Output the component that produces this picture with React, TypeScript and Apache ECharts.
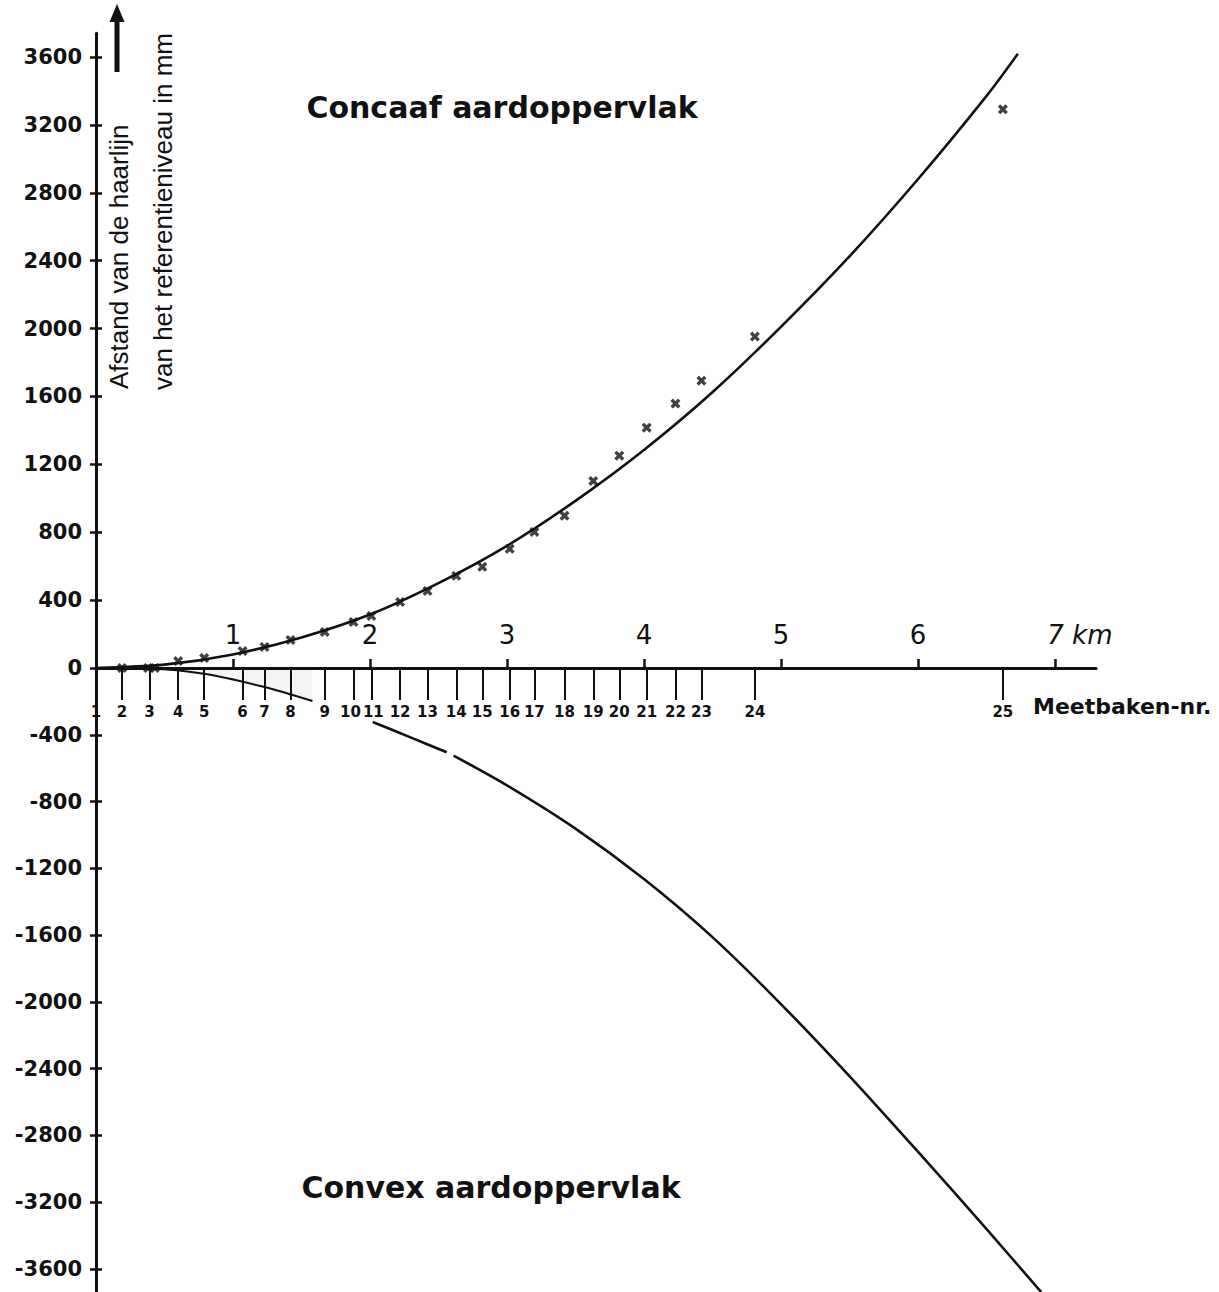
import React, { useEffect, useRef } from "react";
import * as echarts from "echarts";

// ---------- data ----------
const yTicksUpper = [0, 400, 800, 1200, 1600, 2000, 2400, 2800, 3200, 3600];
const yTicksLower = [-3600, -3200, -2800, -2400, -2000, -1600, -1200, -800, -400];
const kmTickValues = [1, 2, 3, 4, 5, 6, 7];

const bakenNumbers = [
  1, 2, 3, 4, 5, 6, 7, 8, 9, 10, 11, 12, 13, 14, 15, 16, 17, 18, 19, 20, 21, 22,
  23, 24, 25,
];
const bakenKm = [
  0, 0.19, 0.39, 0.6, 0.79, 1.07, 1.23, 1.42, 1.67, 1.88, 2.01, 2.22, 2.42,
  2.63, 2.82, 3.02, 3.2, 3.42, 3.63, 3.82, 4.02, 4.23, 4.42, 4.81, 6.62,
];

// measured points (crosses)
const measuredKm = [
  0.19, 0.38, 0.43, 0.6, 0.79, 1.07, 1.23, 1.42, 1.67, 1.88, 2.01, 2.22, 2.42,
  2.63, 2.82, 3.02, 3.2, 3.42, 3.63, 3.82, 4.02, 4.23, 4.42, 4.81, 6.62,
];
const measuredMm = [
  0, 0, 0, 41, 59, 100, 124, 165, 212, 271, 307, 389, 454, 543, 596, 702, 802,
  897, 1102, 1251, 1416, 1558, 1693, 1953, 3292,
];

// concave earth surface curve
const concaveKm = [0, 0.5, 1, 1.5, 2, 2.5, 3, 3.5, 4, 4.5, 5, 5.5, 6, 6.5, 6.73];
const concaveMm = [0, 20, 80, 180, 315, 500, 720, 985, 1285, 1625, 2010, 2425, 2880, 3370, 3620];

// convex earth surface curve: short part near the origin
const convexNearKm = [0, 0.39, 0.8, 1.23, 1.58];
const convexNearMm = [0, -3, -36, -114, -198];

// convex curve: main part (two pieces with a tiny gap)
const convexAKm = [2.02, 2.3, 2.56];
const convexAMm = [-323, -417, -505];
const convexBKm = [2.61, 3.0, 3.5, 4.0, 4.5, 5.0, 5.5, 6.0, 6.5, 6.9];
const convexBMm = [-525, -703, -962, -1264, -1612, -2013, -2444, -2897, -3360, -3738];

// ---------- styling ----------
const NUM_FONT = '"DejaVu Sans", sans-serif';
const TITLE_FONT = '"DejaVu Sans", sans-serif';
const AXIS_TITLE_FONT = '"Liberation Sans", Arial, sans-serif';
const INK = "#111";
const X_SYMBOL =
  "path://M0,2.4 L2.4,0 L5,2.6 L7.6,0 L10,2.4 L7.4,5 L10,7.6 L7.6,10 L5,7.4 L2.4,10 L0,7.6 L2.6,5 Z";

const pairs = (xs: number[], ys: number[]) => xs.map((x, i) => [x, ys[i]]);

function nearestBaken(v: number): string {
  let best = -1;
  let bestD = Infinity;
  bakenKm.forEach((k, i) => {
    const d = Math.abs(k - v);
    if (d < bestD) {
      bestD = d;
      best = i;
    }
  });
  if (best < 0 || bestD > 1e-6) return "";
  const n = bakenNumbers[best];
  // the labels of 10 and 11 sit very close together: nudge them apart a little
  if (n === 10) return "{l|10}";
  if (n === 11) return "{r|11}";
  return String(n);
}

function buildOption(): any {
  const lineBase = {
    type: "line",
    smooth: 0.3,
    showSymbol: false,
    symbol: "none",
    z: 3,
  };
  const crossTickAxis = (gridIndex: number, min: number, max: number, ticks: number[]) => ({
    type: "value",
    gridIndex,
    position: "left",
    min,
    max,
    axisLine: { show: false, onZero: false },
    axisTick: {
      show: true,
      inside: true,
      length: 6,
      customValues: ticks,
      lineStyle: { color: INK, width: 2.5 },
    },
    axisLabel: { show: false },
    splitLine: { show: false },
  });
  const labelledYAxis = (gridIndex: number, min: number, max: number, ticks: number[]) => ({
    type: "value",
    gridIndex,
    position: "left",
    min,
    max,
    axisLine: { show: true, onZero: false, lineStyle: { color: INK, width: 3 } },
    axisTick: {
      show: true,
      inside: false,
      length: 6,
      customValues: ticks,
      lineStyle: { color: INK, width: 2.5 },
    },
    axisLabel: {
      show: true,
      margin: 14,
      customValues: ticks,
      fontFamily: NUM_FONT,
      fontWeight: "bold",
      fontSize: 21,
      color: INK,
      formatter: (v: number) => String(v),
    },
    splitLine: { show: false },
  });
  const bakenRich = {
    fontFamily: NUM_FONT,
    fontWeight: "bold",
    fontSize: 15,
    color: INK,
  };
  return {
    animation: false,
    backgroundColor: "#fff",
    grid: [
      { left: 96, top: 33.3, width: 1000, height: 634.7, containLabel: false, outerBoundsMode: "none" },
      { left: 96, top: 668, width: 1000, height: 624.4, containLabel: false, outerBoundsMode: "none" },
    ],
    xAxis: [
      {
        type: "value",
        gridIndex: 0,
        position: "bottom",
        min: 0,
        max: 7.3,
        axisLine: { show: true, onZero: false, lineStyle: { color: INK, width: 3 } },
        axisTick: {
          show: true,
          inside: true,
          length: 9,
          customValues: kmTickValues,
          lineStyle: { color: INK, width: 2.5 },
        },
        axisLabel: {
          show: true,
          inside: true,
          margin: 20,
          customValues: kmTickValues,
          fontFamily: NUM_FONT,
          fontSize: 26,
          color: INK,
          formatter: (v: number) => (v === 7 ? "{k|7 km}" : String(v)),
          rich: {
            k: {
              fontFamily: NUM_FONT,
              fontSize: 26,
              color: INK,
              fontStyle: "italic",
              padding: [0, 0, 0, 50],
            },
          },
        },
        splitLine: { show: false },
      },
      {
        type: "value",
        gridIndex: 1,
        position: "top",
        min: 0,
        max: 7.3,
        axisLine: { show: false, onZero: false },
        axisTick: {
          show: true,
          inside: true,
          length: 32,
          customValues: bakenKm,
          lineStyle: { color: INK, width: 2 },
        },
        axisLabel: {
          show: true,
          inside: true,
          margin: 36,
          customValues: bakenKm,
          fontFamily: NUM_FONT,
          fontWeight: "bold",
          fontSize: 15,
          color: INK,
          formatter: (v: number) => nearestBaken(v),
          rich: {
            l: { ...bakenRich, padding: [0, 6, 0, 0] },
            r: { ...bakenRich, padding: [0, 0, 0, 4] },
          },
        },
        splitLine: { show: false },
      },
    ],
    yAxis: [
      labelledYAxis(0, 0, 3740, yTicksUpper),
      crossTickAxis(0, 0, 3740, yTicksUpper),
      labelledYAxis(1, -3740, 0, yTicksLower),
      crossTickAxis(1, -3740, 0, yTicksLower),
    ],
    series: [
      {
        ...lineBase,
        name: "Concaaf",
        xAxisIndex: 0,
        yAxisIndex: 0,
        data: pairs(concaveKm, concaveMm),
        lineStyle: { color: INK, width: 2.6 },
      },
      {
        ...lineBase,
        name: "Convex nabij",
        xAxisIndex: 1,
        yAxisIndex: 2,
        data: pairs(convexNearKm, convexNearMm),
        lineStyle: { color: INK, width: 2 },
        areaStyle: { color: "rgba(0,0,0,0.06)" },
      },
      {
        ...lineBase,
        name: "Convex A",
        xAxisIndex: 1,
        yAxisIndex: 2,
        data: pairs(convexAKm, convexAMm),
        lineStyle: { color: INK, width: 2.6 },
      },
      {
        ...lineBase,
        name: "Convex B",
        xAxisIndex: 1,
        yAxisIndex: 2,
        data: pairs(convexBKm, convexBMm),
        lineStyle: { color: INK, width: 2.6 },
      },
      {
        type: "scatter",
        name: "Metingen",
        xAxisIndex: 0,
        yAxisIndex: 0,
        symbol: X_SYMBOL,
        symbolSize: 10,
        itemStyle: { color: INK },
        clip: false,
        data: pairs(measuredKm, measuredMm),
        z: 4,
      },
    ],
    graphic: [
      // arrow next to the y axis
      {
        type: "line",
        shape: { x1: 117, y1: 72, x2: 117, y2: 18 },
        style: { stroke: INK, lineWidth: 5 },
      },
      {
        type: "polygon",
        shape: { points: [[117, 4], [109.5, 22], [124.5, 22]] },
        style: { fill: INK },
      },
      {
        type: "text",
        x: 119,
        y: 389,
        rotation: Math.PI / 2,
        style: {
          text: "Afstand van de haarlijn",
          fill: INK,
          font: `26px ${AXIS_TITLE_FONT}`,
          align: "left",
          verticalAlign: "middle",
        },
      },
      {
        type: "text",
        x: 163,
        y: 390,
        rotation: Math.PI / 2,
        style: {
          text: "van het referentieniveau in mm",
          fill: INK,
          font: `26px ${AXIS_TITLE_FONT}`,
          align: "left",
          verticalAlign: "middle",
        },
      },
      {
        type: "text",
        x: 502,
        y: 107,
        style: {
          text: "Concaaf aardoppervlak",
          fill: INK,
          font: `bold 30px ${TITLE_FONT}`,
          align: "center",
          verticalAlign: "middle",
        },
      },
      {
        type: "text",
        x: 491,
        y: 1187,
        style: {
          text: "Convex aardoppervlak",
          fill: INK,
          font: `bold 30px ${TITLE_FONT}`,
          align: "center",
          verticalAlign: "middle",
        },
      },
      {
        type: "text",
        x: 1033,
        y: 706,
        style: {
          text: "Meetbaken-nr.",
          fill: INK,
          font: `bold 22px ${TITLE_FONT}`,
          align: "left",
          verticalAlign: "middle",
        },
      },
    ],
  };
}

export default function App() {
  const ref = useRef<HTMLDivElement>(null);
  useEffect(() => {
    if (!ref.current) return;
    const chart = echarts.init(ref.current, null, { renderer: "svg" });
    chart.setOption(buildOption());
    return () => {
      chart.dispose();
    };
  }, []);
  return (
    <div
      ref={ref}
      style={{
        position: "absolute",
        left: 0,
        top: 0,
        width: 1219,
        height: 1292,
        background: "#fff",
      }}
    />
  );
}
